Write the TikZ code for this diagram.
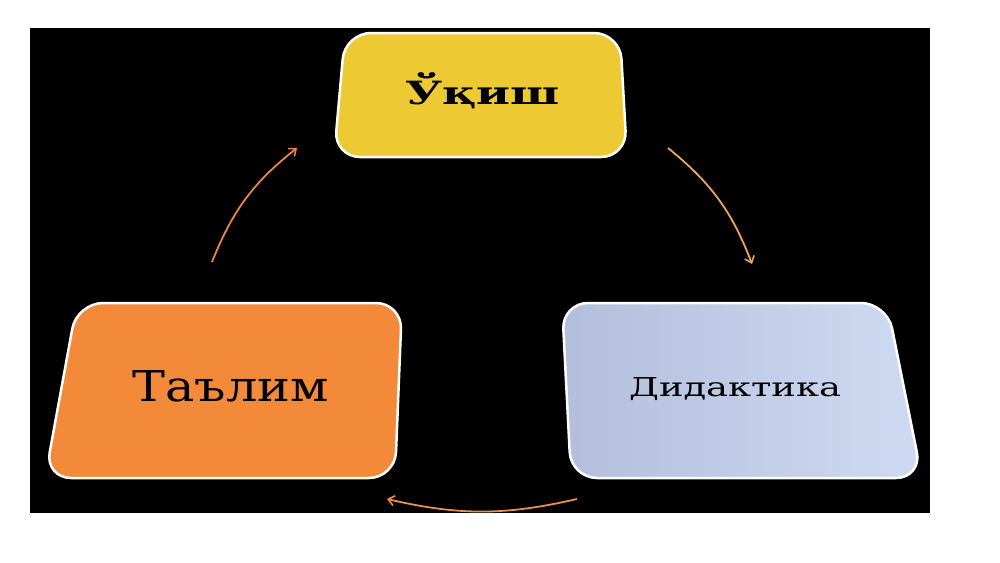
\documentclass[tikz,border=0pt]{standalone}
\usepackage{fontspec}
\setmainfont{DejaVu Serif}
\usetikzlibrary{arrows.meta}
\definecolor{boxyellow}{HTML}{EDC934}
\definecolor{boxorange}{HTML}{F28A3A}
\definecolor{blueleft}{HTML}{B3BEDC}
\definecolor{blueright}{HTML}{CFDAF2}
\definecolor{arcA}{HTML}{F0A552}
\definecolor{arcB}{HTML}{EA8540}
\definecolor{arcC}{HTML}{E8904A}
\tikzset{
  boxedge/.style={draw=white, line width=2.5pt, rounded corners=26pt},
  boxfill/.style={rounded corners=26pt},
  lbl/.style={text=black, inner sep=0pt, anchor=base},
  cyclearrow/.style={line width=1.8pt, -{Straight Barb[length=6pt,width=10pt,line width=1.6pt]}}
}
\begin{document}
\begin{tikzpicture}[x=1pt,y=-1pt]
\useasboundingbox (0,0) rectangle (1000,562);
\fill[white] (0,0) rectangle (1000,562);
\fill[black] (30,28) rectangle (930,513);
% top box
\fill[boxyellow, boxfill] (345,33) -- (620,33) -- (627,157) -- (334,157) -- cycle;
\draw[boxedge] (345,33) -- (620,33) -- (627,157) -- (334,157) -- cycle;
% left box
\fill[boxorange, boxfill] (77,303) -- (402,303) -- (395,478) -- (45,478) -- cycle;
\draw[boxedge] (77,303) -- (402,303) -- (395,478) -- (45,478) -- cycle;
% right box
\shade[left color=blueleft, right color=blueright, boxfill] (562,303) -- (887,303) -- (922,478) -- (571,478) -- cycle;
\draw[boxedge] (562,303) -- (887,303) -- (922,478) -- (571,478) -- cycle;
% labels
\node[lbl, font=\fontsize{32}{38}\selectfont\bfseries] (ukish) at (482.5,104) {\scalebox{1.43}[1]{Ўқиш}};
\node[lbl, font=\fontsize{42.5}{50}\selectfont] (talim) at (230.5,401) {\scalebox{1.16}[1]{Таълим}};
\node[lbl, font=\fontsize{26}{31}\selectfont] (didaktika) at (735,396) {\scalebox{1.415}[1]{Дидактика}};
% arrows
\coordinate (a1s) at (668,148);
\coordinate (a1e) at (752,264);
\coordinate (a2s) at (212,262);
\coordinate (a2e) at (297,148);
\coordinate (a3s) at (577,499);
\coordinate (a3e) at (387,499);
\draw[cyclearrow, arcA] (a1s) to[bend left=15] (a1e);
\draw[cyclearrow, arcB] (a2s) to[bend left=15] (a2e);
\draw[cyclearrow, arcC] (a3s) to[bend left=13] (a3e);
\end{tikzpicture}
\end{document}
